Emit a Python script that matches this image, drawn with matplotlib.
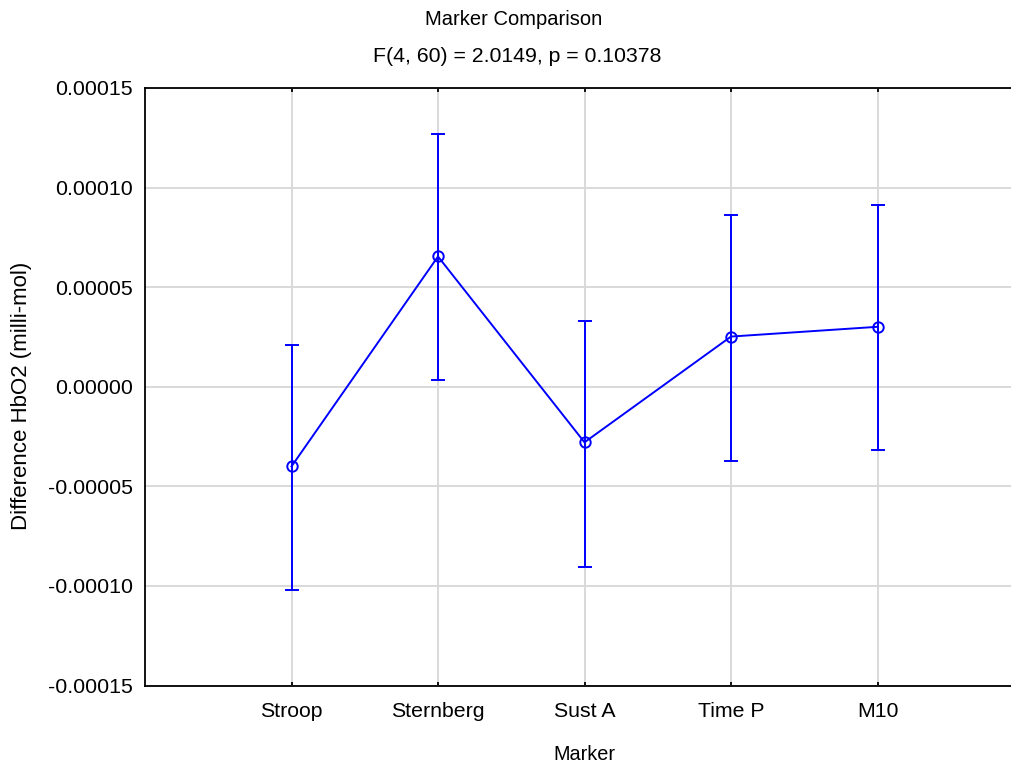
import numpy as np
import matplotlib
matplotlib.use('Agg')
import matplotlib.pyplot as plt

plt.rcParams['font.family'] = ['Liberation Sans', 'DejaVu Sans']

# data
categories = ['Stroop', 'Sternberg', 'Sust A', 'Time P', 'M10']
means = [-4.00e-5, 6.54e-5, -2.79e-5, 2.52e-5, 3.01e-5]
ci_upper = [2.12e-5, 1.268e-4, 3.31e-5, 8.61e-5, 9.15e-5]
ci_lower = [-1.023e-4, 3.4e-6, -9.03e-5, -3.73e-5, -3.20e-5]
yticks = [-0.00015, -0.00010, -0.00005, 0.0, 0.00005, 0.00010, 0.00015]

title = 'Marker Comparison'
subtitle = 'F(4, 60) = 2.0149, p = 0.10378'

fig = plt.figure(figsize=(10.11, 7.64), dpi=100)
ax = fig.add_axes([145 / 1011, 1 - 685.5 / 764, 879 / 1011, (685.5 - 88) / 764])

x = np.arange(1, len(categories) + 1)
means_a = np.array(means)
yerr = [means_a - np.array(ci_lower), np.array(ci_upper) - means_a]

ax.errorbar(x, means_a, yerr=yerr, color='#0000ff', linewidth=1.4,
            elinewidth=1.4, capsize=5.3, capthick=1.4,
            marker='o', markersize=7.5, markerfacecolor='none',
            markeredgecolor='#0000ff', markeredgewidth=1.4, zorder=3)

ax.set_xlim(0, 6)
ax.set_ylim(-0.00015, 0.00015)
ax.set_xticks(x)
ax.set_xticklabels(categories)
ax.set_yticks(yticks)
ax.set_yticklabels([f'{v:.5f}' if v != 0 else '0.00000' for v in yticks])

ax.grid(True, color='#d9d9d9', linewidth=1.4)
ax.set_axisbelow(True)

for s in ['left', 'bottom', 'top']:
    ax.spines[s].set_linewidth(1.3)
    ax.spines[s].set_color('black')
ax.spines['right'].set_visible(False)

ax.tick_params(axis='x', direction='in', length=3, width=1.3, top=True,
               labelsize=15.3, pad=12)
ax.tick_params(axis='y', direction='in', length=0, labelsize=15.4, pad=8.6)

ax.set_xlabel('Marker', fontsize=14.3, labelpad=17)
ax.set_ylabel('Difference HbO2 (milli-mol)', fontsize=16)
ax.yaxis.set_label_coords(-0.128, 0.4845)

fig.text(514 / 1011, 1 - 25 / 764, title, ha='center', va='baseline', fontsize=14.5)
fig.text(517 / 1011, 1 - 62 / 764, subtitle, ha='center', va='baseline', fontsize=15.3)

fig.savefig('out.png', dpi=100)
